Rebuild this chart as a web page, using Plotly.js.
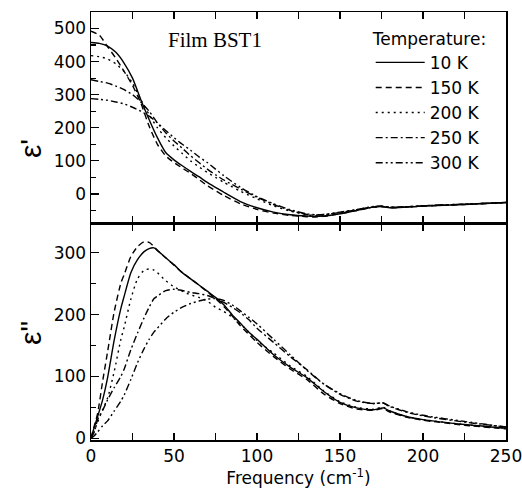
<!DOCTYPE html>
<html>
<head>
<meta charset="utf-8">
<script src="https://cdn.plot.ly/plotly-3.0.1.min.js"></script>
<style>html,body{margin:0;padding:0;background:#fff;}#chart{width:522px;height:494px;}</style>
</head>
<body>
<div id="chart"></div>
<script>
// ---- Data: real part ε' (top panel) ----
const fReal = [0,5,10,15,20,25,30,35,40,45,50,55,60,65,70,75,80,90,100,110,120,130,135,140,150,160,170,175,180,190,200,225,250];
const real10K  = [458,455,447,428,395,350,285,225,170,125,103,85,68,52,35,20,5,-23,-42,-55,-63,-67,-68,-67,-60,-50,-40,-38,-42,-40,-37,-32,-26];
const real150K = [492,480,445,410,370,328,275,205,150,115,95,78,62,44,25,10,-5,-30,-47,-58,-65,-69,-70,-68,-60,-50,-40,-38,-42,-40,-37,-32,-26];
const real200K = [418,415,408,393,370,335,285,240,200,170,145,122,100,82,65,50,35,8,-15,-36,-52,-63,-66,-65,-58,-49,-40,-38,-41,-39,-36,-31,-26];
const real250K = [345,340,335,326,315,300,278,250,215,185,160,138,115,95,75,58,42,15,-10,-32,-50,-62,-64,-63,-56,-48,-39,-37,-40,-39,-36,-31,-26];
const real300K = [288,286,283,278,272,262,250,235,215,192,170,150,132,112,95,75,55,20,-8,-30,-48,-60,-63,-62,-55,-47,-38,-37,-40,-39,-36,-31,-26];

// ---- Data: imaginary part ε'' (bottom panel) ----
const fImag = [0,2,4,7,10,14,18,20,24,28,32,35,38,40,45,50,55,60,65,70,75,80,85,90,95,100,110,120,130,140,150,160,170,176,180,190,200,225,250];
const imag10K  = [0,18,35,62,98,159,210,230,268,289,302,307,308,304,292,281,268,258,248,238,228,216,200,186,172,160,135,115,98,76,58,49,46,49,44,35,30,22,16];
const imag150K = [0,20,40,92,140,205,251,265,294,310,318,317,310,304,292,280,268,258,248,237,226,213,198,182,168,155,132,112,95,72,56,47,45,48,42,34,29,21,15];
const imag200K = [0,12,26,46,65,108,160,180,225,258,272,274,272,268,255,245,238,232,228,222,212,205,196,185,172,158,138,117,100,77,59,50,47,50,44,35,30,22,16];
const imag250K = [0,10,30,45,62,82,100,112,143,170,195,212,226,230,239,241,239,236,234,231,226,220,212,203,192,178,155,132,111,88,71,60,56,57,51,42,36,26,18];
const imag300K = [0,4,10,20,28,44,60,70,95,122,145,160,172,178,193,204,212,218,222,225,226,223,216,206,196,185,160,135,110,88,72,61,56,57,52,43,37,27,18];

const labels = ['10 K','150 K','200 K','250 K','300 K'];
const dashes = ['solid','6px,4px','2px,4px','7px,3px,2px,3px','7px,3px,2px,3px,2px,3px'];
const realSeries = [real10K, real150K, real200K, real250K, real300K];
const imagSeries = [imag10K, imag150K, imag200K, imag250K, imag300K];

const traces = [];
realSeries.forEach((ys, i) => {
  traces.push({x: fReal, y: ys, type: 'scatter', mode: 'lines', name: labels[i],
    xaxis: 'x2', yaxis: 'y2', line: {color: '#000', width: 1.4, dash: dashes[i], shape: 'spline', smoothing: 0.6},
    showlegend: true});
});
imagSeries.forEach((ys, i) => {
  traces.push({x: fImag, y: ys, type: 'scatter', mode: 'lines', name: labels[i],
    xaxis: 'x', yaxis: 'y', line: {color: '#000', width: 1.4, dash: dashes[i], shape: 'spline', smoothing: 0.6},
    showlegend: false});
});

const sans = 'DejaVu Sans, Arial, sans-serif';
const tickFont = {family: sans, size: 17, color: '#000'};
const axCommon = {showline: true, linecolor: '#000', linewidth: 1.5, ticks: 'inside', ticklen: 8,
  tickwidth: 1.2, tickcolor: '#000', showgrid: false, zeroline: false, tickfont: tickFont,
  ticklabeloverflow: 'allow'};

const layout = {
  width: 522, height: 494,
  margin: {l: 91, r: 16, t: 12, b: 54},
  paper_bgcolor: '#fff', plot_bgcolor: '#fff',
  showlegend: true,
  legend: {x: 0.674, y: 0.975, xanchor: 'left', yanchor: 'top', bgcolor: 'rgba(0,0,0,0)',
    itemwidth: 49,
    font: {family: sans, size: 17, color: '#000'},
    title: {text: 'Temperature:', font: {family: sans, size: 17, color: '#000'}},
    tracegroupgap: 0},
  xaxis: Object.assign({}, axCommon, {domain: [0, 1], anchor: 'y', range: [0, 250], dtick: 50, mirror: 'ticks',
    ticklen: 7, minor: {dtick: 25, ticks: 'inside', ticklen: 7, tickcolor: '#000'},
    title: {text: 'Frequency (cm<sup>-1</sup>)', font: {family: sans, size: 17, color: '#000'}, standoff: 6}}),
  xaxis2: Object.assign({}, axCommon, {domain: [0, 1], anchor: 'y2', matches: 'x', range: [0, 250], dtick: 50, mirror: 'ticks',
    ticklen: 7, showticklabels: false, minor: {dtick: 25, ticks: 'inside', ticklen: 7, tickcolor: '#000'}}),
  yaxis: Object.assign({}, axCommon, {domain: [0, 0.505], anchor: 'x', range: [-3, 347], dtick: 100, mirror: true,
    minor: {dtick: 50, ticks: 'inside', ticklen: 5, tickcolor: '#000'}}),
  yaxis2: Object.assign({}, axCommon, {domain: [0.507, 1], anchor: 'x2', range: [-88, 550], dtick: 100, mirror: true,
    tickvals: [0, 100, 200, 300, 400, 500],
    minor: {dtick: 50, ticks: 'inside', ticklen: 5, tickcolor: '#000'}}),
  annotations: [
    {text: 'Film BST1', xref: 'paper', yref: 'paper', x: 0.299, y: 0.935, xanchor: 'center', yanchor: 'middle', showarrow: false,
      font: {family: 'Liberation Serif, Times New Roman, serif', size: 21, color: '#000'}},
    {text: "ε'", xref: 'paper', yref: 'paper', x: -0.147, y: 0.682, xanchor: 'center', yanchor: 'middle', showarrow: false,
      textangle: -90, font: {family: 'Liberation Sans, Arial, sans-serif', size: 30, color: '#000'}},
    {text: 'ε"', xref: 'paper', yref: 'paper', x: -0.147, y: 0.25, xanchor: 'center', yanchor: 'middle', showarrow: false,
      textangle: -90, font: {family: 'Liberation Sans, Arial, sans-serif', size: 30, color: '#000'}}
  ]
};

Plotly.newPlot('chart', traces, layout, {displayModeBar: false, staticPlot: true});
</script>
</body>
</html>
